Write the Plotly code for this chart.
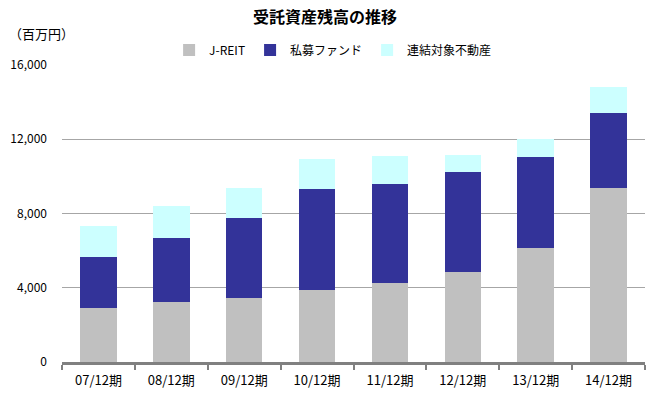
import plotly.graph_objects as go

categories = ["07/12期", "08/12期", "09/12期", "10/12期", "11/12期", "12/12期", "13/12期", "14/12期"]
jreit = [2900, 3220, 3450, 3880, 4280, 4830, 6130, 9400]
shibo = [2780, 3480, 4300, 5450, 5300, 5410, 4940, 4040]
renketsu = [1650, 1720, 1640, 1620, 1520, 920, 950, 1350]

series_names = ["J-REIT", "私募ファンド", "連結対象不動産"]
colors = ["#C0C0C0", "#333399", "#CCFFFF"]
y_ticks = [0, 4000, 8000, 12000, 16000]
y_tick_labels = ["0", "4,000", "8,000", "12,000", "16,000"]

FONT = "Noto Sans CJK JP"

fig = go.Figure()
for name, vals, col in zip(series_names, [jreit, shibo, renketsu], colors):
    fig.add_trace(go.Bar(x=categories, y=vals, name=name, marker=dict(color=col, line=dict(width=0)),
                         width=0.5))

fig.update_layout(
    barmode="stack",
    width=650, height=396,
    margin=dict(l=62, r=5, t=65, b=34, autoexpand=False),
    paper_bgcolor="white", plot_bgcolor="white",
    font=dict(family=FONT, size=12, color="#000000"),
    title=dict(text="<b>受託資産残高の推移</b>", x=0.5, xanchor="center", xref="container",
               y=1 - 17 / 396, yref="container", yanchor="middle",
               font=dict(size=16, family=FONT)),
    legend=dict(orientation="h", x=0.465, xanchor="center", y=1 - 50 / 396, yref="container",
                yanchor="middle", font=dict(size=12, family=FONT), itemwidth=30,
                traceorder="normal", bgcolor="rgba(0,0,0,0)", tracegroupgap=0),
    showlegend=True,
    annotations=[dict(text="（百万円）", xref="paper", yref="paper", x=-0.095, y=1 + 31 / 297,
                      xanchor="left", yanchor="middle", showarrow=False,
                      font=dict(size=13, family=FONT))],
)
fig.update_xaxes(showline=True, linecolor="#808080", linewidth=3, ticks="outside",
                 tickson="boundaries", tickcolor="#808080", ticklen=5, tickwidth=2,
                 showgrid=False, tickfont=dict(size=13, family=FONT), ticklabelstandoff=4)
fig.update_yaxes(range=[0, 16000], tickvals=y_ticks, ticktext=y_tick_labels,
                 showgrid=True, gridcolor="#A6A6A6", gridwidth=1, zeroline=False,
                 showline=False, ticks="", tickfont=dict(size=12, family=FONT), ticklabelstandoff=14)

fig.write_html("out.html", config={"displayModeBar": False},
               post_script="document.body.style.margin='0';")
